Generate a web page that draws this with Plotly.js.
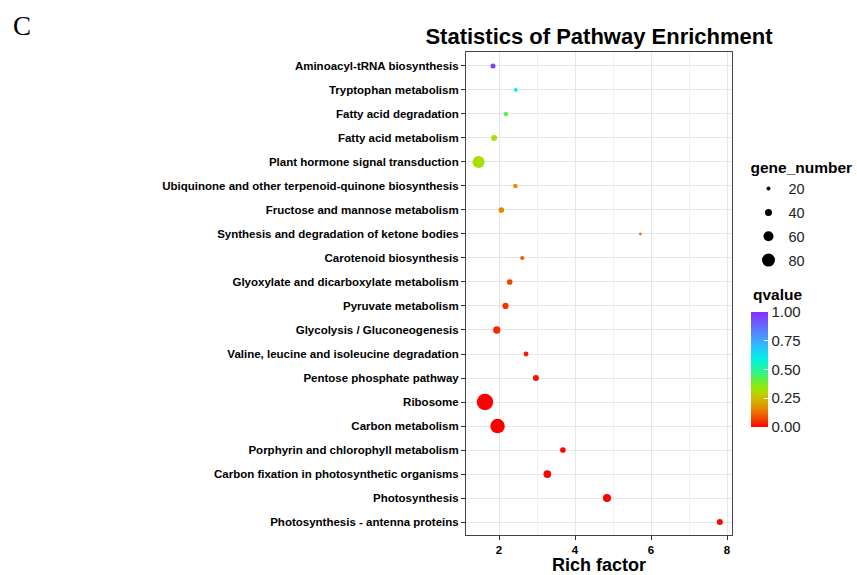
<!DOCTYPE html>
<html>
<head>
<meta charset="utf-8">
<script src="https://cdn.plot.ly/plotly-3.0.1.min.js"></script>
<style>html,body{margin:0;padding:0;background:#fff;}#chart{width:857px;height:575px;}</style>
</head>
<body>
<div id="chart"></div>
<script>
// Pathways (top to bottom)
const pathways = [
  "Aminoacyl-tRNA biosynthesis",
  "Tryptophan metabolism",
  "Fatty acid degradation",
  "Fatty acid metabolism",
  "Plant hormone signal transduction",
  "Ubiquinone and other terpenoid-quinone biosynthesis",
  "Fructose and mannose metabolism",
  "Synthesis and degradation of ketone bodies",
  "Carotenoid biosynthesis",
  "Glyoxylate and dicarboxylate metabolism",
  "Pyruvate metabolism",
  "Glycolysis / Gluconeogenesis",
  "Valine, leucine and isoleucine degradation",
  "Pentose phosphate pathway",
  "Ribosome",
  "Carbon metabolism",
  "Porphyrin and chlorophyll metabolism",
  "Carbon fixation in photosynthetic organisms",
  "Photosynthesis",
  "Photosynthesis - antenna proteins"
];
const richFactor = [1.84, 2.44, 2.18, 1.87, 1.46, 2.43, 2.06, 5.72, 2.61, 2.28,
                    2.17, 1.94, 2.71, 2.97, 1.63, 1.96, 3.68, 3.27, 4.84, 7.81];
const geneNumber = [27, 18, 24, 33, 74, 24, 31, 13, 21, 31,
                    35, 42, 26, 33, 103, 90, 31, 45, 47, 33];
const qvalue = [0.95, 0.60, 0.42, 0.33, 0.32, 0.17, 0.16, 0.15, 0.10, 0.07,
                0.05, 0.04, 0.03, 0.015, 0.0, 0.0, 0.005, 0.003, 0.0, 0.002];
const sizeLegendValues = [20, 40, 60, 80];
const xTicks = [2, 4, 6, 8];
const qTicks = [0, 0.25, 0.5, 0.75, 1];

const diam = n => 1 + 0.15 * n;

const rainbow = [
  [0, '#ff0000'], [0.08, '#f24c00'], [0.17, '#e48f00'], [0.25, '#cfbd00'],
  [0.33, '#a2e400'], [0.42, '#58f24a'], [0.5, '#22f5a0'], [0.6, '#00eee8'],
  [0.72, '#30b8ff'], [0.85, '#5b78ff'], [1, '#8a2cff']
];

const traces = [{
  type: 'scatter', mode: 'markers',
  x: richFactor, y: pathways,
  showlegend: false,
  marker: {
    size: geneNumber.map(diam), opacity: 1,
    color: qvalue, cmin: 0, cmax: 1, colorscale: rainbow,
    line: {width: 0},
    colorbar: {
      x: 1.071, xanchor: 'left', xref: 'paper',
      y: 0.343, yanchor: 'middle',
      len: 115, lenmode: 'pixels', thickness: 17,
      outlinewidth: 0, xpad: 0, ypad: 0,
      ticks: 'inside', ticklen: 4, tickcolor: '#ffffff', tickwidth: 1,
      tickvals: qTicks, tickformat: '.2f',
      tickfont: {family: 'Liberation Sans, Arial, sans-serif', size: 15, color: '#222'}
    }
  },
  hoverinfo: 'x+y'
}];

sizeLegendValues.forEach((v, i) => {
  traces.push({
    type: 'scatter', mode: 'markers',
    x: [null], y: [null],
    name: String(v), legendgroup: 'g' + i,
    showlegend: true,
    marker: {size: diam(v), color: '#000', opacity: 1}
  });
});

const layout = {
  width: 857, height: 575,
  margin: {l: 466, r: 125, t: 52, b: 40, autoexpand: false},
  paper_bgcolor: '#fff', plot_bgcolor: '#fff',
  font: {family: 'Liberation Sans, Arial, sans-serif', color: '#000'},
  title: {
    text: 'Statistics of Pathway Enrichment',
    font: {size: 22, weight: 'bold', color: '#000'},
    xref: 'paper', x: 0.5, xanchor: 'center',
    yref: 'container', y: 0.937, yanchor: 'middle'
  },
  xaxis: {
    range: [1.13, 8.13],
    tickvals: xTicks,
    ticks: 'outside', ticklen: 4, tickwidth: 1.3, tickcolor: '#333',
    tickfont: {size: 11.5, weight: 'bold', color: '#000'},
    showgrid: true, gridcolor: '#e6e6e6', gridwidth: 1,
    minor: {dtick: 1, tick0: 0, showgrid: true, gridcolor: '#f2f2f2', gridwidth: 0.8, ticks: ''},
    showline: true, mirror: true, linecolor: '#444', linewidth: 1,
    zeroline: false,
    title: {text: 'Rich factor', font: {size: 18, weight: 'bold', color: '#000'}, standoff: 4}
  },
  yaxis: {
    type: 'category',
    categoryorder: 'array', categoryarray: pathways,
    range: [19.54, -0.58],
    ticks: 'outside', ticklen: 4, tickwidth: 1.3, tickcolor: '#333',
    tickfont: {size: 11.5, weight: 'bold', color: '#000'},
    showgrid: true, gridcolor: '#e6e6e6', gridwidth: 1,
    showline: true, mirror: true, linecolor: '#444', linewidth: 1,
    zeroline: false
  },
  legend: {
    x: 1.062, xanchor: 'left', y: 0.792, yanchor: 'top',
    title: {text: 'gene_number', font: {size: 15.5, weight: 'bold', color: '#000'}},
    font: {size: 14.5, color: '#222'},
    itemsizing: 'trace', tracegroupgap: 2,
    bgcolor: 'rgba(0,0,0,0)', borderwidth: 0
  },
  annotations: [{
    text: 'C', xref: 'paper', yref: 'paper', x: -1.71, y: 1.054,
    xanchor: 'left', yanchor: 'middle', showarrow: false,
    font: {family: 'Liberation Serif, DejaVu Serif, serif', size: 27, color: '#000'}
  }, {
    text: 'qvalue', xref: 'paper', yref: 'paper', x: 1.071, y: 0.498,
    xanchor: 'left', yanchor: 'middle', showarrow: false,
    font: {size: 15.5, weight: 'bold', color: '#000'}
  }]
};

Plotly.newPlot('chart', traces, layout, {displayModeBar: false, responsive: false});
</script>
</body>
</html>
